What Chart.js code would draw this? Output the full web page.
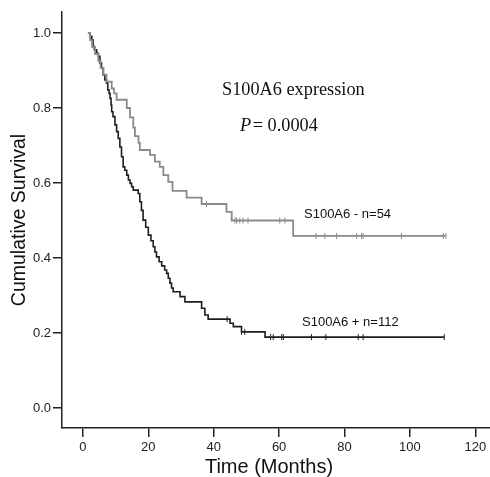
<!DOCTYPE html>
<html>
<head>
<meta charset="utf-8">
<script src="https://cdn.jsdelivr.net/npm/chart.js@4.4.1/dist/chart.umd.min.js"></script>
<style>
  html, body { margin: 0; padding: 0; background: #fff; }
  #km { display: block; }
</style>
</head>
<body>
<canvas id="km" width="490" height="477"></canvas>
<script>
// Kaplan-Meier steps: [months, cumulative survival after the event]
const negSteps = [
  [1.5, 1.0], [2.2, 0.981], [2.8, 0.963], [3.7, 0.944], [4.7, 0.926], [5.4, 0.907],
  [6.3, 0.889], [7.2, 0.870], [8.8, 0.852], [9.5, 0.839], [10.3, 0.822], [13.4, 0.80],
  [14.4, 0.775], [15.4, 0.748], [15.9, 0.725], [17.0, 0.707], [17.4, 0.688], [20.5, 0.675],
  [22.0, 0.657], [23.5, 0.643], [24.6, 0.621], [26.1, 0.603], [27.4, 0.579], [31.7, 0.561],
  [36.3, 0.544], [43.9, 0.523], [45.5, 0.5], [64.3, 0.459], [111, 0.459]
];
const posSteps = [
  [1.6, 1.0], [2.2, 0.991], [2.7, 0.982], [3.1, 0.964], [3.5, 0.955], [4.2, 0.946],
  [4.7, 0.938], [5.2, 0.92], [5.7, 0.906], [6.2, 0.888], [6.7, 0.875], [7.2, 0.866],
  [7.6, 0.848], [8.0, 0.839], [8.3, 0.826], [8.6, 0.808], [8.8, 0.79], [9.2, 0.777],
  [9.8, 0.755], [10.3, 0.737], [10.8, 0.719], [11.3, 0.696], [11.8, 0.670], [12.3, 0.643],
  [12.8, 0.634], [13.4, 0.621], [13.9, 0.608], [14.4, 0.599], [14.9, 0.59], [15.4, 0.581],
  [16.9, 0.572], [17.4, 0.55], [17.9, 0.527], [18.4, 0.501], [19.2, 0.482], [20.0, 0.461],
  [20.8, 0.446], [21.5, 0.43], [22.0, 0.416], [22.5, 0.403], [23.3, 0.39], [24.1, 0.379],
  [25.0, 0.368], [25.6, 0.359], [26.1, 0.346], [26.6, 0.333], [27.1, 0.32], [27.6, 0.31],
  [29.7, 0.297], [31.2, 0.283], [36.3, 0.266], [37.3, 0.248], [38.3, 0.237], [45.0, 0.226],
  [46.0, 0.217], [48.5, 0.203], [55.7, 0.189], [110.5, 0.189]
];
// censored cases (months)
const negCensored = [37.8, 46.5, 47, 48, 49, 50.5, 60.2, 61.8, 71.3, 74, 77.6, 83.7, 85.2, 85.7, 97.4, 110.2, 111];
const posCensored = [44.1, 48.5, 49.5, 57.4, 58.2, 60.8, 61.3, 69.9, 74.3, 84.2, 85.7, 110.5];

const xTicks = [0, 20, 40, 60, 80, 100, 120];
const yTicks = [0, 0.2, 0.4, 0.6, 0.8, 1.0];

const NEG_COLOR = "#8a8a8a";
const POS_COLOR = "#1e1e1e";
const AXIS_COLOR = "#222";

function toPoints(steps) {
  return steps.map(([x, y]) => ({ x, y }));
}

// survival level at time t, read from the step list
function survivalAt(steps, t) {
  let s = steps[0][1];
  for (const [x, y] of steps) {
    if (x <= t) s = y;
  }
  return s;
}

function censorPoints(steps, times) {
  return times.map((t) => ({ x: t, y: survivalAt(steps, t) }));
}

const textPlugin = {
  id: "kmText",
  afterDraw(chart) {
    const ctx = chart.ctx;
    ctx.save();
    ctx.fillStyle = "#111";
    ctx.textBaseline = "middle";

    ctx.font = '18.3px "Liberation Serif", "Times New Roman", serif';
    ctx.textAlign = "left";
    ctx.fillText("S100A6 expression", 222, 90);

    ctx.font = 'italic 18.3px "Liberation Serif", "Times New Roman", serif';
    ctx.fillText("P", 240, 126);
    const pw = ctx.measureText("P").width;
    ctx.font = '18.3px "Liberation Serif", "Times New Roman", serif';
    ctx.fillText("= 0.0004", 240 + pw + 1.5, 126);

    ctx.font = '13px "Liberation Sans", Arial, sans-serif';
    ctx.fillText("S100A6 - n=54", 304, 214);
    ctx.fillText("S100A6 + n=112", 302, 322);

    ctx.font = '20px "Liberation Sans", Arial, sans-serif';
    ctx.textAlign = "center";
    ctx.fillText("Time (Months)", 269, 467);

    ctx.translate(20, 220);
    ctx.rotate(-Math.PI / 2);
    ctx.font = '19.5px "Liberation Sans", Arial, sans-serif';
    ctx.fillText("Cumulative Survival", 0, 0);
    ctx.restore();
  }
};

const tickFont = { family: '"Liberation Sans", Arial, sans-serif', size: 13 };

new Chart(document.getElementById("km").getContext("2d"), {
  type: "line",
  data: {
    datasets: [
      {
        label: "S100A6 - n=54",
        data: toPoints(negSteps),
        stepped: true,
        borderColor: NEG_COLOR,
        borderWidth: 1.8,
        pointRadius: 0,
        fill: false
      },
      {
        label: "S100A6 + n=112",
        data: toPoints(posSteps),
        stepped: true,
        borderColor: POS_COLOR,
        borderWidth: 1.6,
        pointRadius: 0,
        fill: false
      },
      {
        label: "neg censored",
        data: censorPoints(negSteps, negCensored),
        showLine: false,
        pointStyle: "line",
        rotation: 90,
        pointRadius: 3,
        borderColor: NEG_COLOR,
        pointBorderWidth: 1
      },
      {
        label: "pos censored",
        data: censorPoints(posSteps, posCensored),
        showLine: false,
        pointStyle: "line",
        rotation: 90,
        pointRadius: 3,
        borderColor: POS_COLOR,
        pointBorderWidth: 1
      }
    ]
  },
  options: {
    responsive: false,
    animation: false,
    layout: { autoPadding: false, padding: { top: 12, right: 0, left: 0, bottom: 0 } },
    plugins: {
      legend: { display: false },
      tooltip: { enabled: false }
    },
    scales: {
      x: {
        type: "linear",
        min: -6.4,
        max: 124.5,
        afterFit: (scale) => { scale.height = 49; },
        afterBuildTicks: (scale) => { scale.ticks = xTicks.map((v) => ({ value: v })); },
        grid: { display: true, drawOnChartArea: false, drawTicks: true, tickLength: 9, color: AXIS_COLOR, lineWidth: 1.5 },
        border: { display: true, color: AXIS_COLOR, width: 1.5 },
        ticks: { color: AXIS_COLOR, font: tickFont, padding: 3, maxRotation: 0 }
      },
      y: {
        type: "linear",
        min: -0.0533,
        max: 1.056,
        afterFit: (scale) => { scale.width = 62; },
        afterBuildTicks: (scale) => { scale.ticks = yTicks.map((v) => ({ value: v })); },
        grid: { display: true, drawOnChartArea: false, drawTicks: true, tickLength: 9, color: AXIS_COLOR, lineWidth: 1.5 },
        border: { display: true, color: AXIS_COLOR, width: 1.5 },
        ticks: { color: AXIS_COLOR, font: tickFont, padding: 2, callback: (v) => Number(v).toFixed(1) }
      }
    }
  },
  plugins: [textPlugin]
});
</script>
</body>
</html>
